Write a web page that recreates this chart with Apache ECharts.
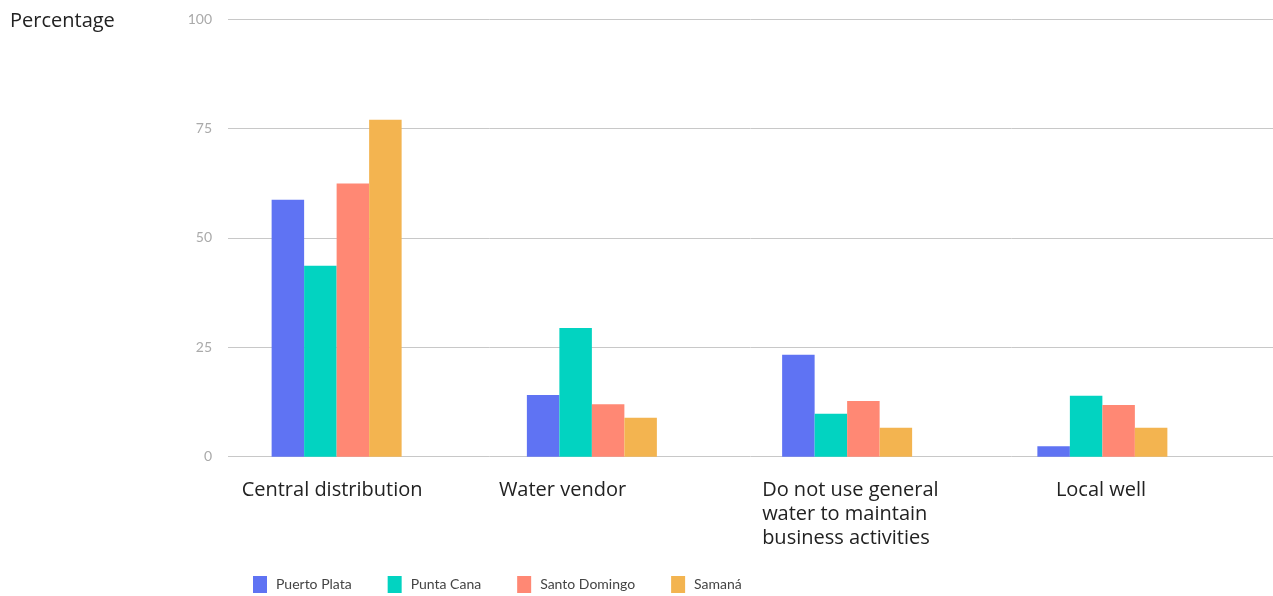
<!DOCTYPE html>
<html>
<head>
<meta charset="utf-8">
<script src="https://cdn.jsdelivr.net/npm/echarts@6/dist/echarts.min.js"></script>
<style>html,body{margin:0;padding:0;background:#fff;}#c{width:1273px;height:596px;}</style>
</head>
<body>
<div id="c"></div>
<script>
const categories = ['Central distribution', 'Water vendor', 'Do not use general\nwater to maintain\nbusiness activities', 'Local well'];
const seriesNames = ['Puerto Plata', 'Punta Cana', 'Santo Domingo', 'Samaná'];
const puertoPlata = [58.7, 14.1, 23.3, 2.4];
const puntaCana = [43.6, 29.4, 9.8, 13.9];
const santoDomingo = [62.4, 12.0, 12.7, 11.8];
const samana = [77.0, 8.9, 6.6, 6.6];
const yTicks = [0, 25, 50, 75, 100];

const colors = ['#5f73f3', '#02d3c1', '#ff8874', '#f3b450'];
const FONT = 'Open Sans';
const values = [puertoPlata, puntaCana, santoDomingo, samana];
const labelWidths = [190, 186, 170, 93];
const rich = {};
labelWidths.forEach((w, i) => {
  rich['c' + i] = {width: w, align: 'left', fontSize: 20, lineHeight: 24, color: '#222', fontFamily: FONT};
});

const chart = echarts.init(document.getElementById('c'), null, {renderer: 'canvas'});
chart.setOption({
  animation: false,
  textStyle: {fontFamily: FONT},
  title: {
    text: 'Percentage', left: 10, top: 11, padding: 0,
    textStyle: {fontSize: 20, fontWeight: 'normal', color: '#222', fontFamily: FONT}
  },
  legend: {
    left: 253, top: 576, padding: 0, itemWidth: 14, itemHeight: 17, itemGap: 36,
    icon: 'rect',
    data: seriesNames,
    textStyle: {fontSize: 14, color: '#444', fontFamily: 'Lato', padding: [0, 0, 0, 4]}
  },
  grid: [
    {left: 209, right: 43, top: 19, bottom: 139.3, containLabel: false},
    {left: 228, right: 0, top: 19, bottom: 139.3, containLabel: false}
  ],
  xAxis: [
    {
      type: 'category', gridIndex: 0, data: categories,
      axisLine: {show: false}, axisTick: {show: false},
      axisLabel: {
        interval: 0, margin: 22, align: 'center',
        formatter: (v, idx) => v.split('\n').map(l => '{c' + idx + '|' + l + '}').join('\n'),
        rich: rich
      }
    },
    {type: 'value', gridIndex: 1, min: 0, max: 1, show: false}
  ],
  yAxis: [
    {type: 'value', gridIndex: 0, min: yTicks[0], max: yTicks[yTicks.length - 1], interval: 25, show: false},
    {
      type: 'value', gridIndex: 1, min: yTicks[0], max: yTicks[yTicks.length - 1], interval: 25,
      axisLine: {show: false}, axisTick: {show: false},
      axisLabel: {color: '#aaaaaa', fontSize: 14, margin: 16, fontFamily: 'Lato'},
      splitLine: {lineStyle: {color: '#c8c8c8', width: 1}}
    }
  ],
  series: seriesNames.map((n, i) => ({
    name: n, type: 'bar', xAxisIndex: 0, yAxisIndex: 0,
    data: values[i], barWidth: 32.5, barGap: '0%',
    itemStyle: {color: colors[i]}
  }))
});
</script>
</body>
</html>
